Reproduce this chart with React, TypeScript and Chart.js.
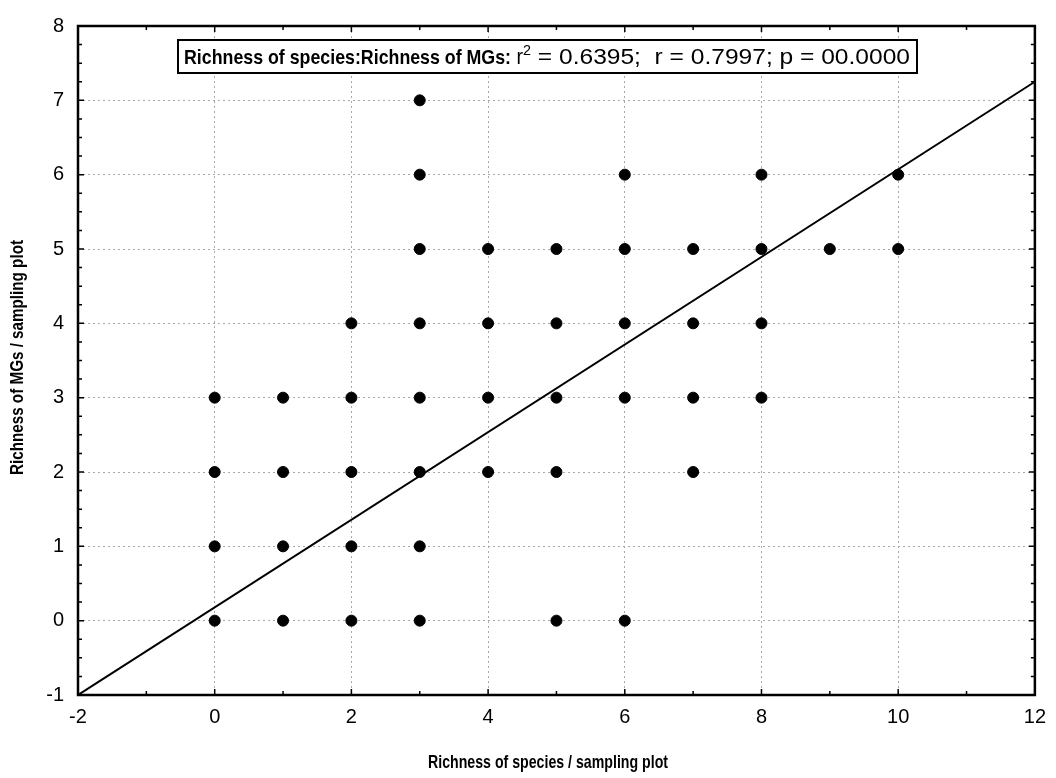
import React, { useEffect, useRef } from "react";
import { Chart, registerables } from "chart.js";

Chart.register(...registerables);

const pointsX = [3, 3, 6, 8, 10, 3, 4, 5, 6, 7, 8, 9, 10, 2, 3, 4, 5, 6, 7, 8, 0, 1, 2, 3, 4, 5, 6, 7, 8, 0, 1, 2, 3, 4, 5, 7, 0, 1, 2, 3, 0, 1, 2, 3, 5, 6];
const pointsY = [7, 6, 6, 6, 6, 5, 5, 5, 5, 5, 5, 5, 5, 4, 4, 4, 4, 4, 4, 4, 3, 3, 3, 3, 3, 3, 3, 3, 3, 2, 2, 2, 2, 2, 2, 2, 1, 1, 1, 1, 0, 0, 0, 0, 0, 0];
const fitLineX = [-2, 12];
const fitLineY = [-1, 7.25];
const xTitle = "Richness of species / sampling plot";
const yTitle = "Richness of MGs / sampling plot";
const statBold = "Richness of species:Richness of MGs:";
const statR2 = " r";
const statSup = "2";
const statRest = " = 0.6395;  r = 0.7997; p = 00.0000";

const FONT = "'Liberation Sans', Arial, sans-serif";

function drawScaledText(ctx: CanvasRenderingContext2D, text: string, x: number, y: number, width: number, font: string) {
  ctx.save();
  ctx.font = font;
  const w = ctx.measureText(text).width;
  const s = width / w;
  ctx.translate(x, y);
  ctx.scale(s, 1);
  ctx.fillText(text, 0, 0);
  ctx.restore();
}

const decorPlugin = {
  id: "decor",
  afterDraw(chart: any) {
    const ctx: CanvasRenderingContext2D = chart.ctx;
    const { left, right, top, bottom } = chart.chartArea;
    const xs = chart.scales.x;
    const ys = chart.scales.y;
    ctx.save();
    // ticks
    ctx.strokeStyle = "#000";
    ctx.lineWidth = 1.5;
    ctx.beginPath();
    for (let v = -2; v <= 12; v += 1) {
      const px = xs.getPixelForValue(v);
      const len = v % 2 === 0 ? 6 : 4;
      ctx.moveTo(px, bottom);
      ctx.lineTo(px, bottom - len);
      ctx.moveTo(px, top);
      ctx.lineTo(px, top + len);
    }
    for (let v = -1; v <= 8; v += 0.25) {
      const py = ys.getPixelForValue(v);
      const len = Number.isInteger(v) ? 6 : 4;
      ctx.moveTo(left, py);
      ctx.lineTo(left + len, py);
      ctx.moveTo(right, py);
      ctx.lineTo(right - len, py);
    }
    ctx.stroke();
    // frame
    ctx.lineWidth = 2.5;
    ctx.strokeRect(left, top, right - left, bottom - top);

    // stats box
    ctx.fillStyle = "#fff";
    ctx.fillRect(178, 40, 739, 33);
    ctx.lineWidth = 2;
    ctx.strokeStyle = "#000";
    ctx.strokeRect(178, 40, 739, 33);
    ctx.fillStyle = "#000";
    ctx.textBaseline = "alphabetic";
    ctx.textAlign = "left";
    drawScaledText(ctx, statBold, 184, 64, 327, `bold 21px ${FONT}`);
    drawScaledText(ctx, statR2, 511, 64, 12, `22px ${FONT}`);
    drawScaledText(ctx, statSup, 523, 55, 8, `14px ${FONT}`);
    drawScaledText(ctx, statRest, 531, 64, 379, `22px ${FONT}`);

    // axis titles
    ctx.textBaseline = "middle";
    drawScaledText(ctx, xTitle, 428, 763, 240, `bold 19px ${FONT}`);
    ctx.save();
    ctx.translate(18, 475);
    ctx.rotate(-Math.PI / 2);
    drawScaledText(ctx, yTitle, 0, 0, 235, `bold 19px ${FONT}`);
    ctx.restore();
    ctx.restore();
  },
};

export default function App() {
  const ref = useRef<HTMLCanvasElement>(null);
  useEffect(() => {
    if (!ref.current) return;
    const scatter = pointsX.map((x, i) => ({ x, y: pointsY[i] }));
    const line = fitLineX.map((x, i) => ({ x, y: fitLineY[i] }));
    const gridColor = (c: any) => {
      const v = c.tick ? c.tick.value : null;
      if (c.scale && (v === c.scale.min || v === c.scale.max)) return "rgba(0,0,0,0)";
      return "#a8a8a8";
    };
    const chart = new Chart(ref.current, {
      type: "scatter",
      data: {
        datasets: [
          {
            type: "line",
            data: line,
            borderColor: "#000",
            borderWidth: 2,
            pointRadius: 0,
            fill: false,
            order: 2,
          } as any,
          {
            data: scatter,
            backgroundColor: "#000",
            borderColor: "#000",
            pointRadius: 5.5,
            pointHoverRadius: 5.5,
            order: 1,
          },
        ],
      },
      options: {
        responsive: false,
        animation: false,
        events: [],
        layout: { padding: { left: 0, right: 18, top: 20, bottom: 0 } },
        plugins: { legend: { display: false }, tooltip: { enabled: false } },
        scales: {
          x: {
            type: "linear",
            min: -2,
            max: 12,
            afterFit: (s: any) => {
              s.height = 83;
            },
            ticks: {
              stepSize: 2,
              padding: 10,
              color: "#000",
              font: { family: FONT, size: 20 },
            },
            grid: { color: gridColor, lineWidth: 1, drawTicks: false },
            border: { display: false, dash: [2, 3] },
          } as any,
          y: {
            type: "linear",
            min: -1,
            max: 8,
            afterFit: (s: any) => {
              s.width = 78;
            },
            ticks: {
              stepSize: 1,
              padding: 14,
              color: "#000",
              font: { family: FONT, size: 20 },
            },
            grid: { color: gridColor, lineWidth: 1, drawTicks: false },
            border: { display: false, dash: [2, 3] },
          } as any,
        },
      },
      plugins: [decorPlugin],
    });
    return () => chart.destroy();
  }, []);
  return (
    <div style={{ position: "absolute", left: 0, top: 0, width: 1056, height: 778, background: "#fff" }}>
      <canvas ref={ref} width={1056} height={778} />
    </div>
  );
}
